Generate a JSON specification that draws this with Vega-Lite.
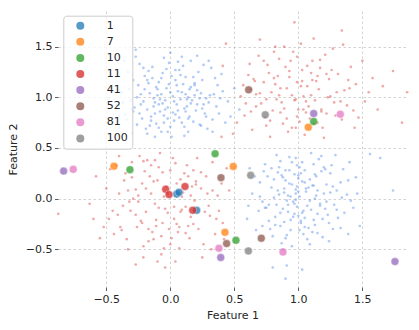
{
  "$schema": "https://vega.github.io/schema/vega-lite/v6.json",
  "width": 349,
  "height": 276,
  "autosize": {"type": "none"},
  "padding": {"left": 58, "top": 11, "right": 12, "bottom": 43},
  "background": "white",
  "config": {
    "view": {"stroke": null},
    "axis": {
      "domain": false,
      "tickColor": "#333333",
      "tickSize": 3.5,
      "tickWidth": 0.8,
      "labelFont": "DejaVu Sans",
      "labelFontSize": 11,
      "labelColor": "#262626",
      "labelPadding": 2.5,
      "titleFont": "DejaVu Sans",
      "titleFontSize": 11,
      "titleFontWeight": "normal",
      "titleColor": "#262626",
      "gridColor": "#b0b0b0",
      "gridDash": [2.5, 2.5],
      "gridOpacity": 0.7,
      "gridWidth": 0.8
    },
    "legend": {
      "labelFont": "DejaVu Sans",
      "labelFontSize": 11,
      "labelColor": "#262626"
    }
  },
  "datasets": {
    "blue": [
      {"x":0.02,"y":1.01},{"x":-0.12,"y":0.95},{"x":0.15,"y":1.08},{"x":-0.05,"y":0.82},{"x":0.21,"y":0.93},{"x":-0.25,"y":1.12},{"x":0.08,"y":1.22},{"x":-0.18,"y":0.88},{"x":0.31,"y":1.02},{"x":0.00,"y":0.71},
      {"x":-0.09,"y":1.15},{"x":0.12,"y":0.86},{"x":-0.31,"y":0.97},{"x":0.25,"y":1.17},{"x":0.05,"y":0.93},{"x":-0.14,"y":1.30},{"x":0.18,"y":0.76},{"x":-0.22,"y":0.79},{"x":0.36,"y":0.91},{"x":-0.03,"y":1.09},
      {"x":0.10,"y":1.31},{"x":-0.38,"y":1.05},{"x":0.27,"y":0.84},{"x":-0.07,"y":0.66},{"x":0.14,"y":1.00},{"x":-0.16,"y":1.04},{"x":0.04,"y":1.17},{"x":-0.28,"y":0.90},{"x":0.22,"y":1.25},{"x":0.33,"y":0.78},
      {"x":-0.11,"y":0.74},{"x":0.07,"y":0.80},{"x":-0.20,"y":1.21},{"x":0.41,"y":1.06},{"x":-0.02,"y":0.90},{"x":0.17,"y":0.97},{"x":-0.35,"y":0.83},{"x":0.09,"y":1.40},{"x":-0.06,"y":1.24},{"x":0.29,"y":0.69},
      {"x":-0.24,"y":1.33},{"x":0.01,"y":0.61},{"x":0.19,"y":1.12},{"x":-0.13,"y":0.99},{"x":0.45,"y":0.96},{"x":-0.42,"y":0.92},{"x":0.11,"y":0.71},{"x":-0.08,"y":0.86},{"x":0.24,"y":1.04},{"x":-0.19,"y":0.69},
      {"x":0.06,"y":1.06},{"x":-0.29,"y":1.17},{"x":0.35,"y":1.19},{"x":-0.01,"y":1.34},{"x":0.13,"y":0.91},{"x":-0.15,"y":0.81},{"x":0.28,"y":0.99},{"x":-0.33,"y":1.25},{"x":0.03,"y":0.77},{"x":0.20,"y":0.87},
      {"x":-0.10,"y":1.08},{"x":0.38,"y":0.84},{"x":-0.26,"y":0.73},{"x":0.16,"y":1.36},{"x":-0.04,"y":0.97},{"x":0.50,"y":1.09},{"x":-0.46,"y":1.10},{"x":0.08,"y":0.98},{"x":-0.17,"y":1.14},{"x":0.26,"y":0.93},
      {"x":-0.21,"y":0.96},{"x":0.12,"y":1.20},{"x":-0.36,"y":1.36},{"x":0.32,"y":1.29},{"x":0.00,"y":1.44},{"x":-0.12,"y":0.61},{"x":0.23,"y":0.73},{"x":-0.07,"y":1.03},{"x":0.15,"y":0.81},{"x":-0.30,"y":0.88},
      {"x":0.43,"y":0.75},{"x":-0.40,"y":0.70},{"x":0.06,"y":0.87},{"x":-0.14,"y":1.19},{"x":0.19,"y":1.02},{"x":-0.23,"y":1.03},{"x":0.37,"y":1.12},{"x":-0.05,"y":0.75},{"x":0.10,"y":1.13},{"x":-0.09,"y":0.93},
      {"x":0.30,"y":1.36},{"x":-0.48,"y":0.99},{"x":0.04,"y":1.27},{"x":-0.27,"y":1.47},{"x":0.54,"y":0.88},{"x":-0.18,"y":0.64},{"x":0.21,"y":1.41},{"x":-0.34,"y":0.78},{"x":0.14,"y":0.66},{"x":-0.01,"y":1.13},
      {"x":0.03,"y":0.96},{"x":-0.10,"y":1.02},{"x":0.09,"y":1.05},{"x":-0.04,"y":0.88},{"x":0.16,"y":0.94},{"x":-0.20,"y":1.08},{"x":0.05,"y":1.12},{"x":-0.13,"y":0.91},{"x":0.23,"y":0.99},{"x":-0.02,"y":0.79},
      {"x":-0.07,"y":1.19},{"x":0.11,"y":0.89},{"x":-0.26,"y":1.00},{"x":0.19,"y":1.14},{"x":0.02,"y":0.85},{"x":-0.17,"y":1.26},{"x":0.14,"y":0.79},{"x":-0.24,"y":0.84},{"x":0.30,"y":0.95},{"x":0.00,"y":1.05},
      {"x":0.07,"y":1.27},{"x":-0.32,"y":1.08},{"x":0.25,"y":0.89},{"x":-0.09,"y":0.70},{"x":0.12,"y":1.03},{"x":-0.11,"y":1.10},{"x":0.01,"y":1.21},{"x":-0.23,"y":0.93},{"x":0.18,"y":1.20},{"x":0.28,"y":0.81},
      {"x":-0.15,"y":0.77},{"x":0.04,"y":0.83},{"x":-0.18,"y":1.17},{"x":0.34,"y":1.03},{"x":-0.06,"y":0.94},{"x":0.13,"y":0.98},{"x":-0.29,"y":0.86},{"x":0.06,"y":1.35},{"x":-0.03,"y":1.28},{"x":0.24,"y":0.72},
      {"x":-0.21,"y":1.29},{"x":-0.02,"y":0.66},{"x":0.16,"y":1.10},{"x":-0.08,"y":0.98},{"x":0.39,"y":0.99},{"x":-0.37,"y":0.95},{"x":0.09,"y":0.75},{"x":-0.12,"y":0.84},{"x":0.21,"y":1.07},{"x":-0.16,"y":0.72},
      {"x":0.40,"y":1.23},{"x":-0.43,"y":1.20},{"x":0.47,"y":0.81},{"x":-0.30,"y":0.65},{"x":0.26,"y":1.32},{"x":-0.40,"y":0.82},{"x":0.33,"y":0.66},{"x":-0.05,"y":1.39},{"x":0.11,"y":0.62},{"x":-0.27,"y":1.40},
      {"x":1.01,"y":0.02},{"x":0.88,"y":-0.10},{"x":1.12,"y":0.13},{"x":0.94,"y":-0.21},{"x":1.20,"y":0.05},{"x":0.79,"y":0.11},{"x":1.05,"y":-0.28},{"x":0.97,"y":0.24},{"x":1.28,"y":-0.06},{"x":0.85,"y":0.31},
      {"x":1.15,"y":-0.15},{"x":0.72,"y":-0.03},{"x":1.09,"y":0.19},{"x":0.91,"y":-0.36},{"x":1.33,"y":0.16},{"x":0.99,"y":-0.08},{"x":0.82,"y":-0.18},{"x":1.24,"y":-0.24},{"x":1.03,"y":0.36},{"x":0.76,"y":0.22},
      {"x":1.18,"y":0.27},{"x":0.89,"y":0.06},{"x":1.41,"y":-0.02},{"x":0.95,"y":0.14},{"x":1.07,"y":-0.40},{"x":0.69,"y":-0.12},{"x":1.13,"y":0.00},{"x":0.86,"y":-0.27},{"x":1.26,"y":0.33},{"x":0.93,"y":0.41},
      {"x":1.00,"y":-0.17},{"x":1.36,"y":-0.14},{"x":0.81,"y":0.01},{"x":1.11,"y":-0.33},{"x":0.98,"y":0.09},{"x":0.74,"y":0.34},{"x":1.21,"y":-0.10},{"x":0.90,"y":0.18},{"x":1.05,"y":0.28},{"x":0.64,"y":0.05},
      {"x":1.30,"y":0.08},{"x":0.87,"y":-0.44},{"x":1.16,"y":0.39},{"x":0.96,"y":-0.03},{"x":1.45,"y":0.21},{"x":0.78,"y":-0.30},{"x":1.02,"y":-0.22},{"x":1.19,"y":-0.38},{"x":0.84,"y":0.26},{"x":1.08,"y":0.11},
      {"x":0.92,"y":-0.13},{"x":1.27,"y":-0.30},{"x":0.70,"y":0.16},{"x":1.14,"y":0.22},{"x":0.99,"y":0.33},{"x":1.38,"y":0.04},{"x":0.83,"y":-0.06},{"x":1.04,"y":-0.12},{"x":0.60,"y":-0.20},{"x":1.22,"y":0.14},
      {"x":0.95,"y":-0.47},{"x":1.10,"y":0.45},{"x":0.88,"y":0.21},{"x":1.31,"y":-0.19},{"x":1.01,"y":-0.31},{"x":0.77,"y":-0.22},{"x":1.17,"y":-0.05},{"x":0.94,"y":0.02},{"x":1.25,"y":0.25},{"x":0.86,"y":0.37},
      {"x":1.06,"y":0.07},{"x":1.43,"y":-0.09},{"x":0.73,"y":0.27},{"x":1.12,"y":-0.21},{"x":0.97,"y":-0.15},{"x":0.80,"y":-0.37},{"x":1.20,"y":0.31},{"x":1.03,"y":0.17},{"x":0.91,"y":-0.02},{"x":1.35,"y":0.29},
      {"x":0.67,"y":-0.31},{"x":1.09,"y":-0.45},{"x":0.89,"y":0.10},{"x":1.15,"y":0.08},{"x":1.00,"y":0.23},{"x":1.48,"y":-0.27},{"x":0.75,"y":-0.09},{"x":1.23,"y":-0.16},{"x":0.98,"y":0.40},{"x":1.07,"y":-0.07},
      {"x":1.56,"y":0.44},{"x":1.64,"y":0.40},{"x":1.74,"y":0.08},{"x":0.80,"y":-0.68},{"x":0.90,"y":-0.79},{"x":1.03,"y":-0.70},{"x":0.91,"y":-0.66},{"x":1.29,"y":0.43},{"x":0.62,"y":0.30},{"x":1.39,"y":-0.35},{"x":0.93,"y":0.28},{"x":1.13,"y":-0.26},
      {"x":0.98,"y":0.05},{"x":0.92,"y":-0.06},{"x":1.06,"y":0.10},{"x":0.96,"y":-0.18},{"x":1.14,"y":0.03},{"x":0.84,"y":0.08},{"x":1.02,"y":-0.24},{"x":1.00,"y":0.20},{"x":1.22,"y":-0.03},{"x":0.90,"y":0.28},
      {"x":1.10,"y":-0.11},{"x":0.77,"y":-0.06},{"x":1.05,"y":0.16},{"x":0.94,"y":-0.31},{"x":1.27,"y":0.12},{"x":0.97,"y":-0.05},{"x":0.86,"y":-0.14},{"x":1.19,"y":-0.20},{"x":1.01,"y":0.31},{"x":0.81,"y":0.19},
      {"x":1.13,"y":0.24},{"x":0.92,"y":0.03},{"x":1.34,"y":0.01},{"x":0.99,"y":0.12},{"x":1.04,"y":-0.35},{"x":0.74,"y":-0.09},{"x":1.09,"y":-0.02},{"x":0.89,"y":-0.23},{"x":1.21,"y":0.29},{"x":0.95,"y":0.36},
      {"x":1.03,"y":-0.14},{"x":1.30,"y":-0.11},{"x":0.85,"y":0.04},{"x":1.08,"y":-0.29},{"x":1.00,"y":0.07},{"x":0.79,"y":0.30},{"x":1.17,"y":-0.07},{"x":0.93,"y":0.15},{"x":1.02,"y":0.25},{"x":0.70,"y":0.02},
      {"x":1.25,"y":0.06},{"x":0.90,"y":-0.39},{"x":1.12,"y":0.34},{"x":0.98,"y":-0.01},{"x":1.39,"y":0.18},{"x":0.82,"y":-0.26},{"x":1.05,"y":-0.19},{"x":1.15,"y":-0.34},{"x":0.87,"y":0.23},{"x":1.11,"y":0.13},
      {"x":1.40,"y":0.36},{"x":0.66,"y":0.22},{"x":1.33,"y":-0.29},{"x":0.72,"y":-0.27},{"x":1.46,"y":0.05},{"x":0.61,"y":-0.07},{"x":1.18,"y":0.42},{"x":0.83,"y":0.43},{"x":1.24,"y":-0.42},{"x":0.88,"y":-0.50}
    ],
    "red": [
      {"x":-0.05,"y":0.02},{"x":0.12,"y":-0.08},{"x":-0.22,"y":0.15},{"x":0.05,"y":-0.25},{"x":-0.31,"y":-0.12},{"x":0.24,"y":0.10},{"x":-0.14,"y":-0.33},{"x":0.18,"y":0.28},{"x":-0.40,"y":0.05},{"x":0.00,"y":-0.45},
      {"x":-0.09,"y":0.31},{"x":0.31,"y":-0.17},{"x":-0.26,"y":-0.28},{"x":0.08,"y":0.19},{"x":-0.48,"y":-0.20},{"x":0.15,"y":-0.39},{"x":-0.18,"y":0.38},{"x":0.37,"y":0.03},{"x":-0.02,"y":-0.14},{"x":-0.35,"y":0.25},
      {"x":0.22,"y":-0.30},{"x":-0.12,"y":-0.05},{"x":0.02,"y":0.40},{"x":-0.44,"y":-0.35},{"x":0.28,"y":0.22},{"x":-0.21,"y":-0.47},{"x":0.10,"y":0.06},{"x":-0.29,"y":0.00},{"x":0.41,"y":-0.24},{"x":-0.07,"y":-0.55},
      {"x":-0.16,"y":0.22},{"x":0.19,"y":-0.02},{"x":-0.37,"y":-0.07},{"x":0.06,"y":-0.33},{"x":-0.24,"y":0.42},{"x":0.33,"y":0.36},{"x":-0.11,"y":-0.21},{"x":-0.55,"y":-0.39},{"x":0.13,"y":0.33},{"x":-0.33,"y":-0.50},
      {"x":0.26,"y":-0.45},{"x":-0.03,"y":0.12},{"x":-0.19,"y":-0.13},{"x":0.40,"y":0.15},{"x":-0.42,"y":0.33},{"x":0.04,"y":-0.62},{"x":-0.27,"y":0.09},{"x":0.16,"y":-0.18},{"x":-0.63,"y":-0.05},{"x":-0.08,"y":0.45},
      {"x":0.30,"y":-0.07},{"x":-0.13,"y":-0.40},{"x":-0.36,"y":0.18},{"x":0.09,"y":-0.11},{"x":-0.23,"y":-0.22},{"x":0.21,"y":0.40},{"x":-0.50,"y":0.10},{"x":-0.01,"y":-0.30},{"x":-0.27,"y":-0.65},{"x":0.35,"y":-0.35},
      {"x":-0.15,"y":0.05},{"x":0.11,"y":0.25},{"x":-0.39,"y":-0.28},{"x":0.25,"y":-0.58},{"x":-0.06,"y":-0.24},{"x":-0.58,"y":0.22},{"x":0.17,"y":0.12},{"x":-0.21,"y":-0.58},{"x":0.44,"y":0.30},{"x":-0.30,"y":0.36},
      {"x":-0.10,"y":0.18},{"x":0.07,"y":-0.49},{"x":-0.45,"y":-0.12},{"x":0.29,"y":0.05},{"x":-0.17,"y":-0.30},{"x":0.00,"y":0.28},{"x":-0.34,"y":-0.40},{"x":0.14,"y":-0.27},{"x":-0.875,"y":-0.15},{"x":-0.25,"y":-0.03},
      {"x":0.38,"y":-0.12},{"x":-0.04,"y":-0.68},{"x":-0.52,"y":-0.28},{"x":0.20,"y":0.17},{"x":-0.12,"y":0.38},{"x":0.03,"y":-0.08},{"x":-0.40,"y":0.42},{"x":0.32,"y":-0.50},{"x":-0.20,"y":0.27},{"x":-0.07,"y":-0.37},
      {"x":-0.02,"y":0.05},{"x":0.08,"y":-0.13},{"x":-0.19,"y":0.10},{"x":0.03,"y":-0.20},{"x":-0.27,"y":-0.16},{"x":0.20,"y":0.14},{"x":-0.11,"y":-0.27},{"x":0.14,"y":0.22},{"x":-0.33,"y":0.08},{"x":0.01,"y":-0.39},
      {"x":-0.06,"y":0.26},{"x":0.27,"y":-0.13},{"x":-0.22,"y":-0.24},{"x":0.05,"y":0.15},{"x":-0.41,"y":-0.16},{"x":0.12,"y":-0.34},{"x":-0.15,"y":0.33},{"x":0.33,"y":0.08},{"x":-0.04,"y":-0.10},{"x":-0.30,"y":0.21},
      {"x":0.18,"y":-0.25},{"x":-0.09,"y":-0.09},{"x":0.04,"y":0.35},{"x":-0.38,"y":-0.31},{"x":0.24,"y":0.26},{"x":-0.17,"y":-0.42},{"x":0.09,"y":0.02},{"x":-0.25,"y":0.03},{"x":0.36,"y":-0.20},{"x":-0.05,"y":-0.49},
      {"x":-0.13,"y":0.17},{"x":0.16,"y":0.03},{"x":-0.32,"y":-0.03},{"x":0.07,"y":-0.28},{"x":-0.21,"y":0.37},{"x":0.42,"y":-0.40},{"x":-0.47,"y":0.29},{"x":-0.60,"y":-0.20},{"x":0.46,"y":0.08},{"x":-0.10,"y":-0.62},
      {"x":0.95,"y":1.02},{"x":1.08,"y":0.91},{"x":0.82,"y":1.13},{"x":1.15,"y":1.21},{"x":0.71,"y":0.94},{"x":1.22,"y":0.84},{"x":0.90,"y":1.30},{"x":1.01,"y":0.76},{"x":0.63,"y":1.08},{"x":1.30,"y":1.05},
      {"x":0.86,"y":0.85},{"x":1.11,"y":1.36},{"x":0.77,"y":1.24},{"x":1.38,"y":0.92},{"x":0.99,"y":1.15},{"x":0.58,"y":0.82},{"x":1.19,"y":0.70},{"x":0.92,"y":0.66},{"x":1.26,"y":1.27},{"x":0.69,"y":1.41},
      {"x":1.04,"y":1.01},{"x":0.83,"y":0.98},{"x":1.45,"y":1.13},{"x":0.75,"y":0.72},{"x":1.13,"y":0.97},{"x":0.96,"y":1.45},{"x":1.34,"y":0.78},{"x":0.61,"y":1.22},{"x":1.07,"y":1.11},{"x":0.88,"y":0.74},
      {"x":1.21,"y":1.42},{"x":0.79,"y":1.05},{"x":1.52,"y":0.96},{"x":1.00,"y":0.88},{"x":0.67,"y":0.91},{"x":1.16,"y":1.08},{"x":0.93,"y":1.20},{"x":1.41,"y":1.30},{"x":0.73,"y":1.15},{"x":1.09,"y":0.79},
      {"x":0.85,"y":1.38},{"x":1.28,"y":0.95},{"x":0.55,"y":1.01},{"x":1.03,"y":1.27},{"x":1.18,"y":0.86},{"x":0.80,"y":0.87},{"x":1.47,"y":0.80},{"x":0.97,"y":0.97},{"x":0.64,"y":0.68},{"x":1.24,"y":1.18},
      {"x":0.91,"y":1.09},{"x":1.36,"y":1.07},{"x":0.76,"y":1.32},{"x":1.12,"y":0.74},{"x":1.02,"y":1.53},{"x":0.70,"y":1.04},{"x":1.31,"y":1.23},{"x":0.87,"y":0.95},{"x":1.58,"y":1.19},{"x":0.98,"y":0.70},
      {"x":1.14,"y":1.16},{"x":0.59,"y":0.94},{"x":1.23,"y":1.00},{"x":0.84,"y":1.21},{"x":1.06,"y":0.85},{"x":0.74,"y":0.80},{"x":1.43,"y":0.87},{"x":0.94,"y":1.36},{"x":1.17,"y":1.29},{"x":0.66,"y":1.16},
      {"x":0.97,"y":1.74},{"x":1.34,"y":1.66},{"x":1.74,"y":1.26},{"x":1.85,"y":1.05},{"x":1.81,"y":0.75},{"x":0.40,"y":0.61},{"x":0.41,"y":1.31},{"x":0.435,"y":1.53},{"x":0.49,"y":0.64},{"x":1.62,"y":0.88},
      {"x":1.05,"y":0.63},{"x":0.89,"y":1.50},{"x":1.27,"y":1.48},{"x":0.78,"y":0.61},{"x":1.50,"y":1.36},{"x":0.62,"y":1.33},{"x":1.10,"y":1.24},{"x":1.39,"y":1.17},{"x":0.81,"y":1.45},{"x":1.20,"y":0.60},
      {"x":0.98,"y":0.98},{"x":1.04,"y":0.88},{"x":0.86,"y":1.09},{"x":1.11,"y":1.17},{"x":0.75,"y":0.98},{"x":1.18,"y":0.88},{"x":0.93,"y":1.26},{"x":0.99,"y":0.81},{"x":0.67,"y":1.03},{"x":1.25,"y":1.01},
      {"x":0.89,"y":0.89},{"x":1.07,"y":1.31},{"x":0.81,"y":1.19},{"x":1.33,"y":0.96},{"x":1.02,"y":1.11},{"x":0.63,"y":0.86},{"x":1.15,"y":0.75},{"x":0.95,"y":0.70},{"x":1.22,"y":1.23},{"x":0.73,"y":1.36},
      {"x":1.06,"y":0.96},{"x":0.85,"y":1.02},{"x":1.40,"y":1.09},{"x":0.78,"y":0.77},{"x":1.10,"y":1.02},{"x":0.99,"y":1.40},{"x":1.29,"y":0.82},{"x":0.65,"y":1.18},{"x":1.03,"y":1.16},{"x":0.91,"y":0.79},
      {"x":1.17,"y":1.37},{"x":0.82,"y":1.50},{"x":1.55,"y":1.05},{"x":0.57,"y":1.12},{"x":1.44,"y":0.70},{"x":1.66,"y":1.11},{"x":0.52,"y":0.75},{"x":1.35,"y":1.52},{"x":1.12,"y":1.58},{"x":0.70,"y":1.57}
    ],
    "pts": [
      {"x":0.05,"y":0.045,"k":"1"},{"x":0.068,"y":0.063,"k":"1"},{"x":0.206,"y":-0.115,"k":"1"},
      {"x":-0.44,"y":0.32,"k":"7"},{"x":0.492,"y":0.318,"k":"7"},{"x":0.427,"y":-0.332,"k":"7"},{"x":1.078,"y":0.705,"k":"7"},
      {"x":-0.315,"y":0.286,"k":"10"},{"x":0.35,"y":0.443,"k":"10"},{"x":0.513,"y":-0.411,"k":"10"},{"x":1.12,"y":0.762,"k":"10"},
      {"x":-0.036,"y":0.092,"k":"11"},{"x":-0.01,"y":0.04,"k":"11"},{"x":0.115,"y":0.12,"k":"11"},{"x":0.175,"y":-0.115,"k":"11"},
      {"x":-0.833,"y":0.272,"k":"41"},{"x":0.394,"y":-0.581,"k":"41"},{"x":1.12,"y":0.84,"k":"41"},{"x":1.755,"y":-0.621,"k":"41"},
      {"x":0.396,"y":0.207,"k":"52"},{"x":0.711,"y":-0.391,"k":"52"},{"x":0.44,"y":-0.443,"k":"52"},{"x":0.612,"y":1.074,"k":"52"},
      {"x":-0.758,"y":0.289,"k":"81"},{"x":0.38,"y":-0.49,"k":"81"},{"x":0.88,"y":-0.526,"k":"81"},{"x":1.328,"y":0.833,"k":"81"},
      {"x":0.628,"y":0.23,"k":"100"},{"x":0.61,"y":-0.516,"k":"100"},{"x":0.742,"y":0.828,"k":"100"}
    ]
  },
  "encoding": {
    "x": {
      "field": "x", "type": "quantitative", "title": "Feature 1",
      "scale": {"domain": [-0.877, 1.849], "nice": false, "zero": false},
      "axis": {"values": [-0.5, 0, 0.5, 1, 1.5], "format": ".1f", "titlePadding": 5}
    },
    "y": {
      "field": "y", "type": "quantitative", "title": "Feature 2",
      "scale": {"domain": [-0.872, 1.852], "nice": false, "zero": false},
      "axis": {"values": [-0.5, 0, 0.5, 1, 1.5], "format": ".1f", "titlePadding": 7}
    }
  },
  "layer": [
    {
      "data": {"name": "blue"},
      "mark": {"type": "point", "shape": "circle", "filled": true, "size": 7, "color": "#6495ED", "opacity": 0.5}
    },
    {
      "data": {"name": "red"},
      "mark": {"type": "point", "shape": "circle", "filled": true, "size": 7, "color": "#d62728", "opacity": 0.4}
    },
    {
      "data": {"name": "pts"},
      "mark": {"type": "point", "shape": "circle", "filled": true, "size": 64, "opacity": 0.75, "stroke": "white", "strokeWidth": 0.5},
      "encoding": {
        "color": {
          "field": "k", "type": "nominal", "title": null,
          "scale": {
            "domain": ["1", "7", "10", "11", "41", "52", "81", "100"],
            "range": ["#1f77b4", "#ff7f0e", "#2ca02c", "#d62728", "#9467bd", "#8c564b", "#e377c2", "#7f7f7f"]
          },
          "legend": {
            "orient": "none", "legendX": 5.3, "legendY": 4.7,
            "padding": 4.5, "symbolOffset": 7, "labelOffset": 21,
            "rowPadding": 4.1, "symbolSize": 64, "symbolOpacity": 0.75,
            "symbolStrokeWidth": 0,
            "strokeColor": "#cccccc", "fillColor": "rgba(255,255,255,0.8)", "cornerRadius": 3
          }
        }
      }
    }
  ]
}
